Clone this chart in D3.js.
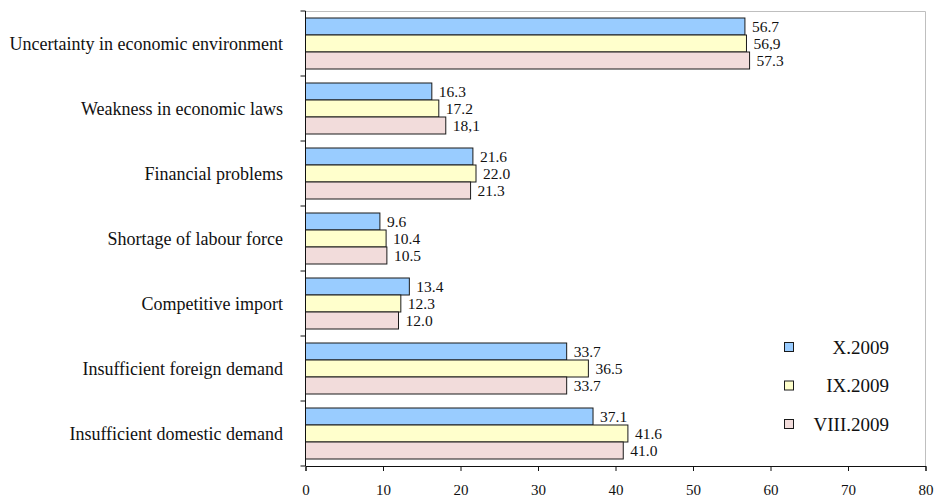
<!DOCTYPE html>
<html>
<head>
  <script src="https://d3js.org/d3.v7.min.js"></script>
  <style>
    body { margin: 0; background: white; }
  </style>
</head>
<body>
  <svg id="chart" width="934" height="499"></svg>
  <script>
    // chart data
    const categories = [
      'Uncertainty in economic environment',
      'Weakness in economic laws',
      'Financial problems',
      'Shortage of labour force',
      'Competitive import',
      'Insufficient foreign demand',
      'Insufficient domestic demand'
    ];
    const seriesNames = ['X.2009', 'IX.2009', 'VIII.2009'];
    const oct2009 = [56.7, 16.3, 21.6, 9.6, 13.4, 33.7, 37.1];
    const sep2009 = [56.9, 17.2, 22.0, 10.4, 12.3, 36.5, 41.6];
    const aug2009 = [57.3, 18.1, 21.3, 10.5, 12.0, 33.7, 41.0];
    // value labels as printed (two use a decimal comma)
    const octLabels = ['56.7', '16.3', '21.6', '9.6', '13.4', '33.7', '37.1'];
    const sepLabels = ['56,9', '17.2', '22.0', '10.4', '12.3', '36.5', '41.6'];
    const augLabels = ['57.3', '18,1', '21.3', '10.5', '12.0', '33.7', '41.0'];
    const xTicks = [0, 10, 20, 30, 40, 50, 60, 70, 80];

    const colors = ['#99ccff', '#ffffcc', '#f2dcdb'];
    const values = [oct2009, sep2009, aug2009];
    const labels = [octLabels, sepLabels, augLabels];

    const FONT = "'Liberation Serif', 'Times New Roman', Tinos, 'DejaVu Serif', serif";
    const svg = d3.select('#chart')
      .attr('font-family', FONT);

    const x = d3.scaleLinear().domain([0, 80]).range([305.5, 925.5]);
    const y = d3.scaleBand().domain(categories).range([11, 466]);
    const pad = 7;
    const barH = (y.bandwidth() - pad * 2) / 3;

    // plot area border (top and right)
    svg.append('path')
      .attr('d', `M${x(0)},11.5H${x(80)}V466`)
      .attr('fill', 'none')
      .attr('stroke', '#bfbfbf')
      .attr('stroke-width', 1);

    // bars
    categories.forEach((c, i) => {
      values.forEach((vals, s) => {
        const y0 = y(c) + pad + s * barH;
        svg.append('rect')
          .attr('x', x(0))
          .attr('y', y0)
          .attr('width', x(vals[i]) - x(0))
          .attr('height', barH)
          .attr('fill', colors[s])
          .attr('stroke', '#1a1a1a')
          .attr('stroke-width', 1);

        svg.append('text')
          .attr('x', x(vals[i]) + 7)
          .attr('y', y0 + barH / 2)
          .attr('dy', '0.35em')
          .attr('font-family', FONT)
          .attr('font-size', 15.5)
          .attr('fill', '#111')
          .text(labels[s][i]);
      });
    });

    // y axis with ticks at category boundaries
    const yAxis = svg.append('g');
    yAxis.append('line')
      .attr('x1', x(0)).attr('x2', x(0))
      .attr('y1', 11).attr('y2', 466)
      .attr('stroke', '#111');
    d3.range(categories.length + 1).forEach(k => {
      const yy = 11 + k * y.step();
      yAxis.append('line')
        .attr('x1', x(0) - 5).attr('x2', x(0))
        .attr('y1', yy).attr('y2', yy)
        .attr('stroke', '#111');
    });
    categories.forEach(c => {
      yAxis.append('text')
        .attr('x', 283)
        .attr('y', y(c) + y.bandwidth() / 2)
        .attr('dy', '0.35em')
        .attr('text-anchor', 'end')
        .attr('font-family', FONT)
        .attr('font-size', 18)
        .attr('fill', '#111')
        .text(c);
    });

    // x axis
    const xAxis = svg.append('g')
      .attr('transform', 'translate(0,466)')
      .call(d3.axisBottom(x).tickValues(xTicks).tickSize(5).tickPadding(13).tickFormat(d3.format('d')));
    xAxis.attr('font-family', FONT).attr('font-size', 15);
    xAxis.select('.domain').attr('stroke', '#111');
    xAxis.selectAll('line').attr('stroke', '#111');
    xAxis.selectAll('text').attr('fill', '#111');

    // legend
    const legend = svg.append('g');
    seriesNames.forEach((name, s) => {
      const cy = 347 + s * 38.5;
      legend.append('rect')
        .attr('x', 784.5).attr('y', cy - 4.5)
        .attr('width', 9).attr('height', 9)
        .attr('fill', colors[s])
        .attr('stroke', '#1a1a1a');
      legend.append('text')
        .attr('x', 889)
        .attr('y', cy)
        .attr('dy', '0.35em')
        .attr('text-anchor', 'end')
        .attr('font-family', FONT)
        .attr('font-size', 19)
        .attr('fill', '#111')
        .text(name);
    });
  </script>
</body>
</html>
